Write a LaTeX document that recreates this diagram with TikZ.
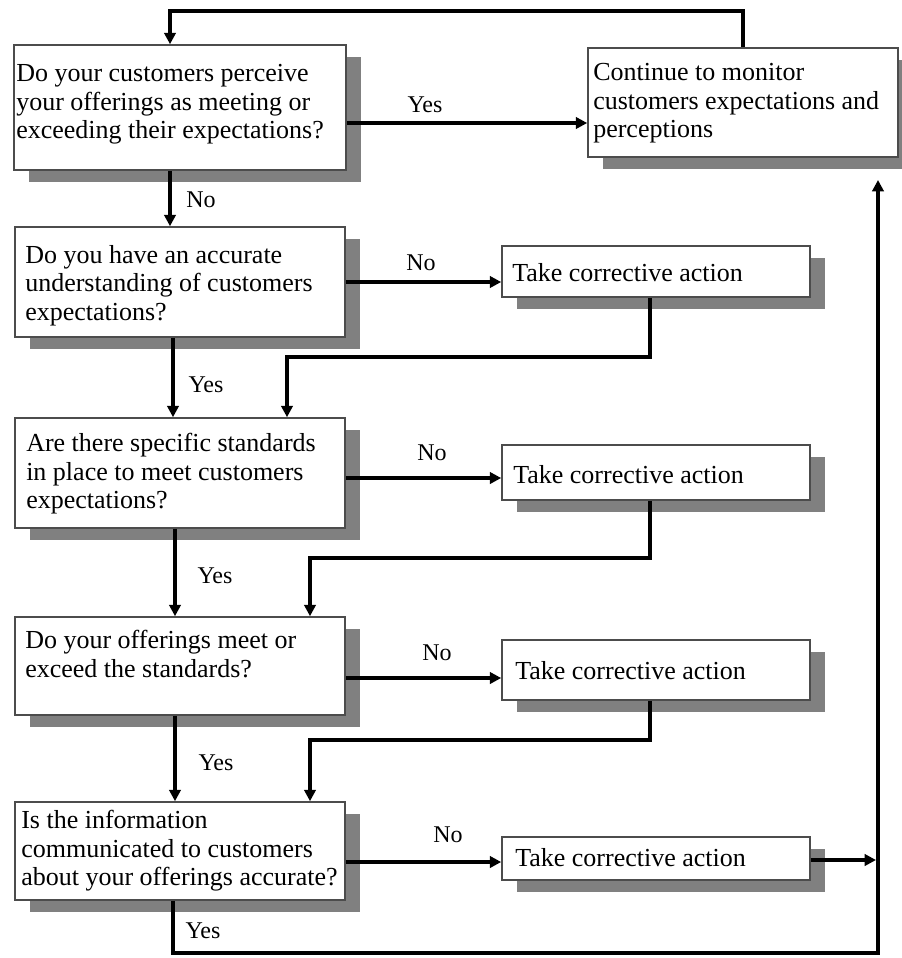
\documentclass[tikz,border=0pt]{standalone}
\usepackage{fontspec}
\setmainfont{Liberation Serif}
\usetikzlibrary{arrows.meta,fit,shadows}
\begin{document}
\begin{tikzpicture}[x=0.75pt,y=-0.75pt,
  box/.style={draw=black!70,line width=1.2pt,fill=white,inner sep=0pt,
    drop shadow={shadow xshift=11.5pt,shadow yshift=-9pt,opacity=1,fill=black!50}},
  txt/.style={anchor=north west,inner sep=0pt,align=left,
    font=\fontsize{19.5}{21.5}\selectfont},
  lbl/.style={anchor=base,inner sep=0pt,font=\fontsize{18}{20}\selectfont},
  flow/.style={line width=2.7pt,-{Triangle[length=8.5pt,width=8.5pt]}},
  link/.style={line width=2.4pt}]
\useasboundingbox (0,0) rectangle (901,958);

% question boxes (left column)
\node[box,fit={(14,45) (346,170)}] (q1) {};
\node[box,fit={(15,227) (345,337)}] (q2) {};
\node[box,fit={(15,418) (345,528)}] (q3) {};
\node[box,fit={(15,617) (345,715)}] (q4) {};
\node[box,fit={(15,802) (345,900)}] (q5) {};
% action boxes (right column)
\node[box,fit={(588,48) (898,157)}] (cont) {};
\node[box,fit={(502,246) (810,297)}] (a1) {};
\node[box,fit={(502,445) (810,500)}] (a2) {};
\node[box,fit={(502,640) (810,700)}] (a3) {};
\node[box,fit={(502,837) (810,880)}] (a4) {};

% box texts
\node[txt] (q1t) at (16,64) {Do your customers perceive\\your offerings as meeting or\\exceeding their expectations?};
\node[txt] (q2t) at (25,245) {Do you have an accurate\\understanding of customers\\expectations?};
\node[txt] (q3t) at (26,433) {Are there specific standards\\in place to meet customers\\expectations?};
\node[txt] (q4t) at (25,630) {Do your offerings meet or\\exceed the standards?};
\node[txt] (q5t) at (21,810) {Is the information\\communicated to customers\\about your offerings accurate?};
\node[txt] (contt) at (593,63) {Continue to monitor\\customers expectations and\\perceptions};
\node[txt] (a1t) at (512,263) {Take corrective action};
\node[txt] (a2t) at (513,465) {Take corrective action};
\node[txt] (a3t) at (515,661) {Take corrective action};
\node[txt] (a4t) at (515,848) {Take corrective action};

% helper coordinates for routing
\coordinate (topy) at (0,11);
\coordinate (x1) at (170,0);
\coordinate (y1) at (0,123);
\coordinate (y2) at (0,282);
\coordinate (y3) at (0,478);
\coordinate (y4) at (0,678);
\coordinate (y5) at (0,862);
\coordinate (xr) at (650,0);
\coordinate (bend1) at (287,357);
\coordinate (bend2) at (310,558);
\coordinate (bend3) at (310,740);
\coordinate (retjoin) at (876,860);
\coordinate (retend) at (878,180);
\coordinate (bottom) at (173,953);

% feedback loop to the first question
\draw[flow] (cont.north) -- (cont.north |- topy) -| (q1.north -| x1);
% main yes / no connectors
\draw[flow] (q1.east |- y1) -- (cont.west |- y1);
\draw[flow] (q1.south -| x1) -- (q2.north -| x1);
\draw[flow] (q2.east |- y2) -- (a1.west |- y2);
\draw[flow] (q2.south -| 173,0) -- (q3.north -| 173,0);
\draw[flow] (q3.east |- y3) -- (a2.west |- y3);
\draw[flow] (q3.south -| 175,0) -- (q4.north -| 175,0);
\draw[flow] (q4.east |- y4) -- (a3.west |- y4);
\draw[flow] (q4.south -| 175,0) -- (q5.north -| 175,0);
\draw[flow] (q5.east |- y5) -- (a4.west |- y5);
% corrective actions feeding back into the chain
\draw[flow,line width=2.4pt] (a1.south -| xr) |- (bend1) -- (q3.north -| bend1);
\draw[flow,line width=2.4pt] (a2.south -| xr) |- (bend2) -- (q4.north -| bend2);
\draw[flow,line width=2.4pt] (a3.south -| xr) |- (bend3) -- (q5.north -| bend3);
\draw[flow] (a4.east |- retjoin) -- (retjoin);
% final yes back up to monitoring
\draw[flow,line width=3pt] (q5.south -| bottom) -- (bottom) -| (retend);

% connector labels
\node[lbl] (l1) at (425,112) {Yes};
\node[lbl] (l2) at (201,207) {No};
\node[lbl] (l3) at (421,270) {No};
\node[lbl] (l4) at (206,392) {Yes};
\node[lbl] (l5) at (432,460) {No};
\node[lbl] (l6) at (215,583) {Yes};
\node[lbl] (l7) at (437,660) {No};
\node[lbl] (l8) at (216,770) {Yes};
\node[lbl] (l9) at (448,842) {No};
\node[lbl] (l10) at (203,938) {Yes};
\end{tikzpicture}
\end{document}
